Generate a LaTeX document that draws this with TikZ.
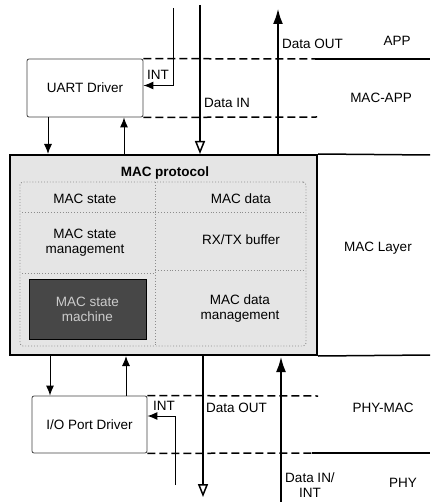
\documentclass[tikz,border=0pt]{standalone}
\usepackage{fontspec}
\setmainfont{Liberation Sans}
\usetikzlibrary{arrows.meta}
\begin{document}
\begin{tikzpicture}[x=1pt,y=-1pt,
  txt/.style={font=\fontsize{13.5}{15}\selectfont, inner sep=0pt},
  drv/.style={draw=black!75, line width=0.8pt, rounded corners=2pt, txt},
  divline/.style={black, line width=1.5pt, dash pattern=on 8pt off 4pt},
  solidline/.style={black, line width=1.5pt},
  inner/.style={black!45, line width=0.9pt, dotted},
  arr/.style={line width=1pt, -{Latex[length=10pt,width=8pt]}},
  openarr/.style={line width=2.2pt, -{Triangle[open,length=13pt,width=10pt,line width=1.5pt]}},
  fullarr/.style={line width=2.8pt, -{Latex[length=16pt,width=10pt]}},
]
\useasboundingbox (0,0) rectangle (430,502);

% driver boxes and MAC box
\node[drv, minimum width=116, minimum height=58] (uart) at (85,88) {UART Driver};
\node[drv, minimum width=115, minimum height=57] (io) at (89.5,424.5) {I/O Port Driver};
\node[draw=black, line width=2pt, fill=black!10, minimum width=307, minimum height=200] (mac) at (163.5,255) {};

% inner structure of MAC protocol
\node[inner, draw, rounded corners=3pt, minimum width=286, minimum height=164] (proto) at (163,264) {};
\coordinate (divT) at (155,182);
\coordinate (divB) at (155,346);
\draw[inner] (divT) -- (divB);
\coordinate (s1a) at (22,212); \coordinate (s1b) at (304,212);
\draw[inner] (s1a) -- (s1b);
\coordinate (s2a) at (22,273); \coordinate (s2b) at (155,273);
\draw[inner] (s2a) -- (s2b);
\coordinate (s3a) at (155,270); \coordinate (s3b) at (304,270);
\draw[inner] (s3a) -- (s3b);
\node[txt, font=\fontsize{13.5}{15}\selectfont\bfseries, fill=black!10, inner sep=1pt] (title) at (165,173) {MAC protocol};
\node[txt] (mstate) at (85,199) {MAC state};
\node[txt, align=center] (mstmgmt) at (85,243) {MAC state\\management};
\node[fill=black!72, draw=black, line width=1pt, minimum width=117, minimum height=60, txt, text=black!20, align=center] (machine) at (87.5,309) {MAC state\\machine};
\node[txt] (mdata) at (241,199) {MAC data};
\node[txt] (buf) at (241,240) {RX/TX buffer};
\node[txt, align=center] (mdmgmt) at (240,309) {MAC data\\management};

% layer boundary lines
\coordinate (L1m) at (315,59);  \coordinate (L1e) at (430,59);
\draw[divline] (uart.north east) -- (L1m);
\draw[solidline] (L1m) -- (L1e);
\coordinate (L2e) at (317,117);
\draw[divline] (uart.south east) -- (L2e);
\coordinate (L3e) at (430,155);
\draw[solidline] (mac.north east) -- (L3e);
\coordinate (L4e) at (430,355);
\draw[solidline] (mac.south east) -- (L4e);
\coordinate (L5e) at (318,396);
\draw[divline] (io.north east) -- (L5e);
\coordinate (L6m) at (312,453); \coordinate (L6e) at (430,453);
\draw[divline] (io.south east) -- (L6m);
\draw[solidline] (L6m) -- (L6e);

% layer labels
\node[txt] (app) at (397,41) {APP};
\node[txt] (macapp) at (381,98) {MAC-APP};
\node[txt] (maclayer) at (378,248) {MAC Layer};
\node[txt] (phymac) at (383,408) {PHY-MAC};
\node[txt] (phy) at (403,483) {PHY};

% driver <-> MAC arrows
\draw[arr] (48,0 |- uart.south) -- (48,0 |- mac.north);
\draw[arr] (124,0 |- mac.north) -- (124,0 |- uart.south);
\draw[arr] (50,0 |- mac.south) -- (50,0 |- io.north);
\draw[arr] (126,0 |- io.north) -- (126,0 |- mac.south);

% interrupts
\coordinate (intTop) at (173,8);
\draw[arr] (intTop) |- ([yshift=2.5pt]uart.east);
\node[txt] (intTopLbl) at (158,75) {INT};
\coordinate (intBot) at (175,485);
\draw[arr] (intBot) |- ([yshift=8.5pt]io.east);
\node[txt] (intBotLbl) at (164,406) {INT};

% data paths
\coordinate (dinTop) at (200,5);
\draw[openarr] (dinTop) -- (dinTop |- mac.north);
\node[txt, anchor=west] (dinLbl) at (204,103) {Data IN};
\coordinate (doutTop) at (278,8);
\draw[fullarr] (doutTop |- mac.north) -- (doutTop);
\node[txt, anchor=west] (doutLbl) at (282,44) {Data OUT};
\coordinate (doutBot) at (203,497);
\draw[openarr] (doutBot |- mac.south) -- (doutBot);
\node[txt, anchor=west] (doutBotLbl) at (206,408) {Data OUT};
\coordinate (dinBot) at (281,502);
\draw[fullarr] (dinBot) -- (dinBot |- mac.south);
\node[txt, align=center] (dinBotLbl) at (310,485) {Data IN/\\INT};
\end{tikzpicture}
\end{document}
